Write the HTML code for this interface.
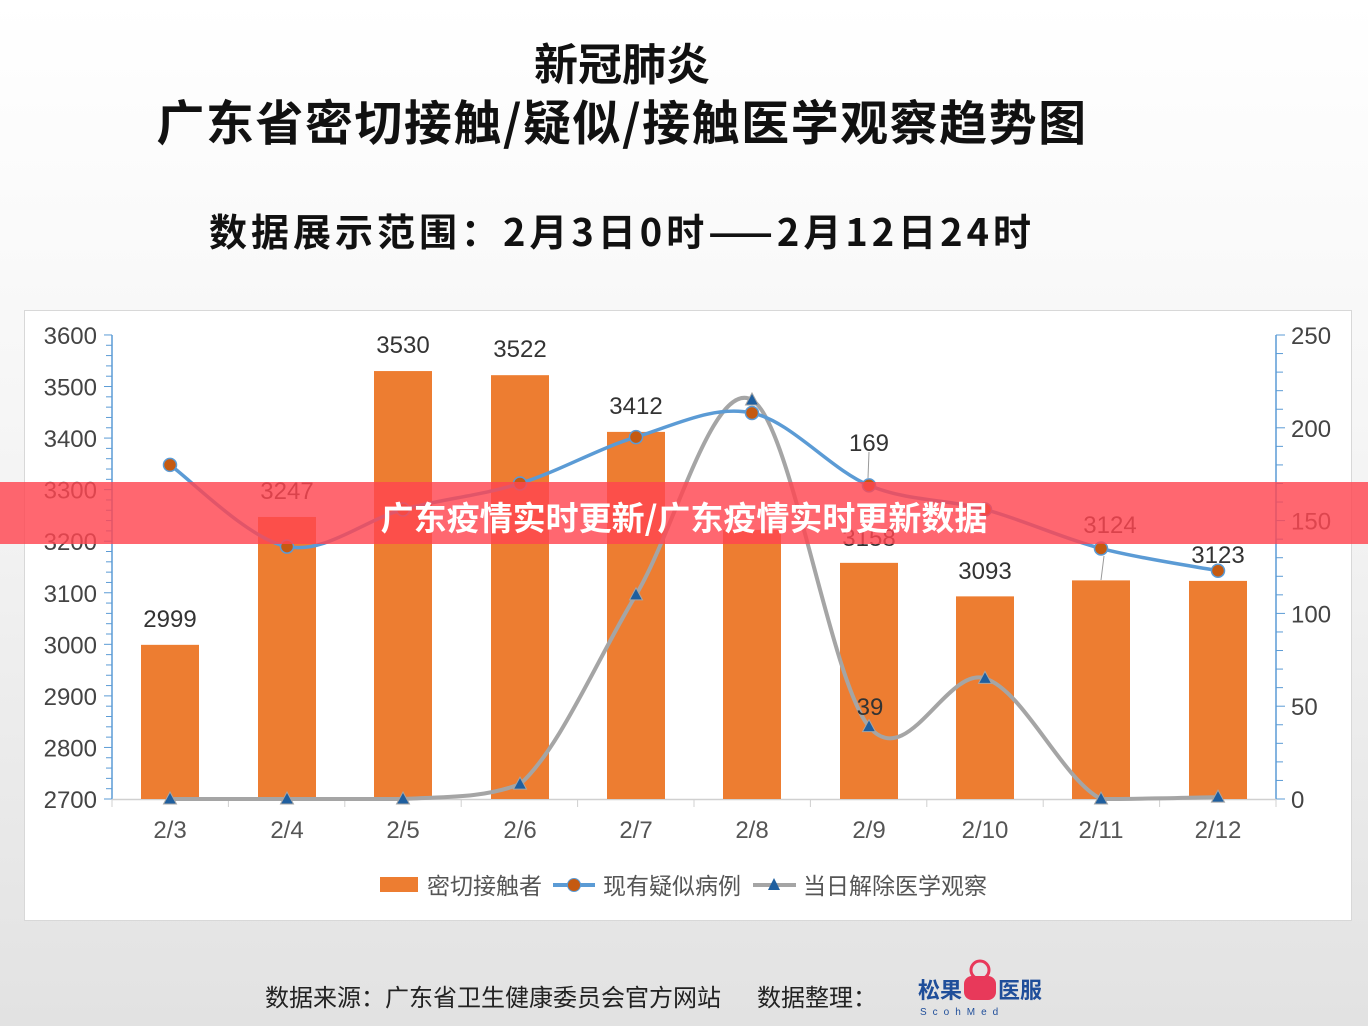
<!DOCTYPE html>
<html><head><meta charset="utf-8"><style>
html,body{margin:0;padding:0}
body{width:1368px;height:1026px;overflow:hidden;background:linear-gradient(#ffffff 0%,#f6f6f6 40%,#e2e2e2 100%);font-family:"Liberation Sans","Noto Sans CJK SC",sans-serif;position:relative}
.t{position:absolute;left:0;width:1368px;text-align:center;font-weight:bold;color:#111;font-family:"Noto Sans CJK SC","WenQuanYi Zen Hei",sans-serif}
</style></head><body>
<div class="t" style="top:29px;font-size:44px;left:-62px">新冠肺炎</div>
<div class="t" style="top:84px;font-size:48px;left:-62px;letter-spacing:1.5px">广东省密切接触/疑似/接触医学观察趋势图</div>
<div class="t" style="top:202px;font-size:38px;left:-62px;letter-spacing:4px">数据展示范围：2月3日0时——2月12日24时</div>
<svg width="1368" height="1026" style="position:absolute;left:0;top:0" id="s" font-family="Liberation Sans, Noto Sans CJK SC, sans-serif"></svg>
<div style="position:absolute;left:0;top:482px;width:1368px;height:62px;background:rgba(255,70,80,0.82)"></div>
<div style="position:absolute;left:0;top:492px;width:1368px;text-align:center;color:#fff;font-weight:bold;font-size:33px;font-family:'Noto Sans CJK SC',sans-serif">广东疫情实时更新/广东疫情实时更新数据</div>
<script>
var s=document.getElementById('s'),h='';
h+='<rect x="24.5" y="310.5" width="1327" height="610" fill="#fff" stroke="#d8d8d8"/>';
var xs=[170,287,403,520,636,752,869,985,1101,1218],lab=['2/3','2/4','2/5','2/6','2/7','2/8','2/9','2/10','2/11','2/12'];
var L=v=>799-(v-2700)*0.5156,R=v=>799-v*1.856;
h+='<line x1="112" y1="335" x2="112" y2="799" stroke="#5b9bd5" stroke-width="1.5"/>';
h+='<line x1="1276" y1="335" x2="1276" y2="799" stroke="#5b9bd5" stroke-width="1.5"/>';
for(var v=2700;v<=3600;v+=20){var y=L(v);h+='<line x1="'+(v%100?106:104)+'" y1="'+y+'" x2="112" y2="'+y+'" stroke="#5b9bd5"/>';}
for(v=2700;v<=3600;v+=100)h+='<text x="97" y="'+(L(v)+9)+'" font-size="24" fill="#444" text-anchor="end">'+v+'</text>';
for(v=0;v<=250;v+=10){var y=R(v);h+='<line x1="1276" y1="'+y+'" x2="'+(v%50?1283:1285)+'" y2="'+y+'" stroke="#5b9bd5"/>';}
for(v=0;v<=250;v+=50)h+='<text x="1291" y="'+(R(v)+9)+'" font-size="24" fill="#444">'+v+'</text>';
h+='<line x1="112" y1="799.5" x2="1276" y2="799.5" stroke="#d0d0d0" stroke-width="1.5"/>';
for(var i=0;i<=10;i++){var x=112+i*116.4;h+='<line x1="'+x+'" y1="799" x2="'+x+'" y2="807" stroke="#d0d0d0"/>';}
var bars=[2999,3247,3530,3522,3412,3222,3158,3093,3124,3123];
xs.forEach((x,i)=>{h+='<rect x="'+(x-29)+'" y="'+L(bars[i])+'" width="58" height="'+(799-L(bars[i]))+'" fill="#ed7d31"/>';
h+='<text x="'+x+'" y="838" font-size="24" fill="#555" text-anchor="middle">'+lab[i]+'</text>';});
function path(p,cl){var d='M'+p[0][0]+','+p[0][1];var c1=y=>cl?Math.min(y,cl):y;for(var i=0;i<p.length-1;i++){var a=p[i-1]||p[i],b=p[i],c=p[i+1],e=p[i+2]||c;
d+=' C'+(b[0]+(c[0]-a[0])/6)+','+c1(b[1]+(c[1]-a[1])/6)+' '+(c[0]-(e[0]-b[0])/6)+','+c1(c[1]-(e[1]-b[1])/6)+' '+c[0]+','+c[1];}return d;}
var gy=[0,0,0,8,110,215,39,65,0,1].map(R),by=[180,136,156,170,195,208,169,156,135,123].map(R);
var gp=xs.map((x,i)=>[x,gy[i]]),bp=xs.map((x,i)=>[x,by[i]]);
h+='<path d="'+path(gp,799)+'" fill="none" stroke="#a5a5a5" stroke-width="4"/>';
h+='<path d="'+path(bp)+'" fill="none" stroke="#5b9bd5" stroke-width="3.5"/>';
bp.forEach(p=>h+='<circle cx="'+p[0]+'" cy="'+p[1]+'" r="6.5" fill="#c55a11" stroke="#5b9bd5" stroke-width="1.5"/>');
gp.forEach(p=>h+='<path d="M'+p[0]+','+(p[1]-7)+' L'+(p[0]+6.5)+','+(p[1]+5)+' L'+(p[0]-6.5)+','+(p[1]+5)+'Z" fill="#1f5f9f" stroke="#a5a5a5"/>');
[[170,627,'2999'],[287,499,'3247'],[403,353,'3530'],[520,357,'3522'],[636,414,'3412'],[869,451,'169'],[869,546,'3158'],[985,579,'3093'],[1110,533,'3124'],[1218,563,'3123'],[870,715,'39']].forEach(t=>h+='<text x="'+t[0]+'" y="'+t[1]+'" font-size="24" fill="#333" text-anchor="middle">'+t[2]+'</text>');
h+='<line x1="869" y1="452" x2="868" y2="478" stroke="#999"/><line x1="1104" y1="556" x2="1101" y2="580" stroke="#999"/>';
h+='<rect x="380" y="877" width="38" height="15" fill="#ed7d31"/><text x="427" y="894" font-size="23" fill="#555">密切接触者</text>';
h+='<line x1="553" y1="885" x2="595" y2="885" stroke="#5b9bd5" stroke-width="4"/><circle cx="574" cy="885" r="6.5" fill="#c55a11" stroke="#5b9bd5"/><text x="603" y="894" font-size="23" fill="#555">现有疑似病例</text>';
h+='<line x1="753" y1="885" x2="796" y2="885" stroke="#a5a5a5" stroke-width="4"/><path d="M774,878 L780,890 L768,890Z" fill="#1f5f9f"/><text x="803" y="894" font-size="23" fill="#555">当日解除医学观察</text>';
h+='<text x="265" y="1006" font-size="24" fill="#222">数据来源：广东省卫生健康委员会官方网站</text><text x="757" y="1006" font-size="24" fill="#222">数据整理：</text>';
h+='<text x="918" y="998" font-size="22" fill="#1f4e9a" font-weight="bold">松果</text><text x="998" y="998" font-size="22" fill="#1f4e9a" font-weight="bold">医服</text>';
h+='<rect x="964" y="976" width="32" height="24" rx="8" fill="#e8395a"/><circle cx="980" cy="970" r="9" fill="none" stroke="#e8395a" stroke-width="3"/>';
h+='<text x="920" y="1015" font-size="10" fill="#1f4e9a" letter-spacing="6">ScohMed</text>';
s.innerHTML=h;
</script>
</body></html>
